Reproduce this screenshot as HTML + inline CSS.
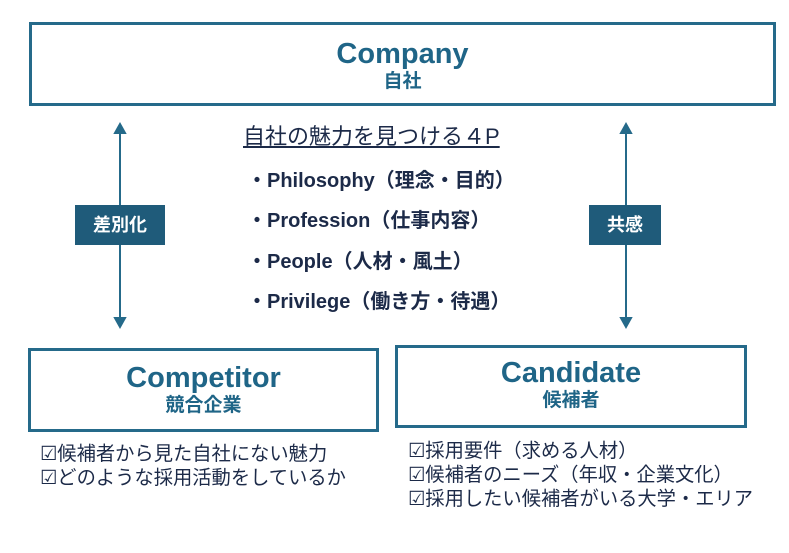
<html><head><style>
body{margin:0;width:789px;height:553px;background:#fff;position:relative;font-family:"Liberation Sans","Noto Sans CJK JP",sans-serif;overflow:hidden}
.box{position:absolute;border:3px solid #256a8a;box-sizing:border-box;text-align:center;color:#1f6587;font-weight:bold}
.t1{font-size:29px;line-height:32px}
.t2{font-size:19px;line-height:24px}
.lab{position:absolute;background:#1f5b7a;color:#fff;font-size:18px;font-weight:bold;text-align:center;line-height:40px}
.p{position:absolute;color:#1c2a48;font-weight:bold;font-size:20px;white-space:nowrap}
.l{position:absolute;color:#1c2a48;font-size:19.3px;line-height:24px;white-space:nowrap}
</style></head><body>
<div class="box" style="left:29px;top:22px;width:747px;height:84px;padding-top:13px"><div class="t1">Company</div><div class="t2">自社</div></div>
<div class="box" style="left:28px;top:348px;width:351px;height:84px;padding-top:11px"><div class="t1">Competitor</div><div class="t2">競合企業</div></div>
<div class="box" style="left:395px;top:345px;width:352px;height:83px;padding-top:9px"><div class="t1">Candidate</div><div class="t2">候補者</div></div>
<svg style="position:absolute;left:0;top:0" width="789" height="553">
<g stroke="#256a8a" stroke-width="2" fill="#256a8a">
<line x1="120" y1="130" x2="120" y2="322"/><polygon points="115,133 120,124 125,133"/><polygon points="115,318 120,327 125,318"/>
<line x1="626" y1="130" x2="626" y2="322"/><polygon points="621,133 626,124 631,133"/><polygon points="621,318 626,327 631,318"/>
</g></svg>
<div class="lab" style="left:75px;top:205px;width:90px">差別化</div>
<div class="lab" style="left:589px;top:205px;width:72px">共感</div>
<div class="p" style="left:243px;top:119px;text-decoration:underline;font-size:22px;font-weight:normal">自社の魅力を見つける４P</div>
<div class="p" style="left:247px;top:164px">・Philosophy（理念・目的）</div>
<div class="p" style="left:247px;top:204px">・Profession（仕事内容）</div>
<div class="p" style="left:247px;top:245px">・People（人材・風土）</div>
<div class="p" style="left:247px;top:285px">・Privilege（働き方・待遇）</div>
<div class="l" style="left:40px;top:443px">☑候補者から見た自社にない魅力<br>☑どのような採用活動をしているか</div>
<div class="l" style="left:408px;top:440px">☑採用要件（求める人材）<br>☑候補者のニーズ（年収・企業文化）<br>☑採用したい候補者がいる大学・エリア</div>
</body></html>
